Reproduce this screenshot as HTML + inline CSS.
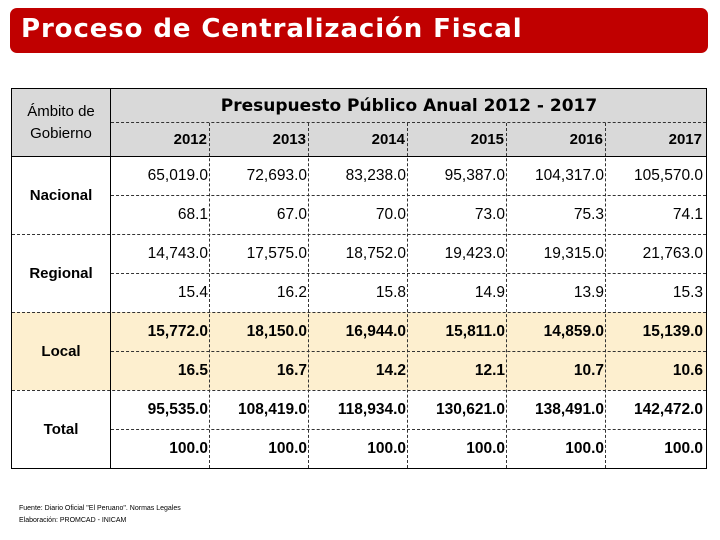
<!DOCTYPE html>
<html><head><meta charset="utf-8"><style>
body{margin:0;width:720px;height:540px;background:#fff;position:relative;overflow:hidden;font-family:"Liberation Sans",sans-serif}
.a{position:absolute;box-sizing:border-box}
.t{position:absolute;white-space:nowrap}
</style></head><body>
<div class="a" style="left:10px;top:8px;width:698px;height:45px;background:#c00000;border-radius:7px"></div>
<div class="t" style="left:21px;top:14px;color:#fff;font:bold 26px 'DejaVu Sans',sans-serif;letter-spacing:0.9px">Proceso de Centralización Fiscal</div>
<div id="tbl" class="a" style="left:11px;top:88px;width:696px;height:381px;border:1px solid #000"></div>
<div class="t" style="left:19px;top:505px;font-size:7px;color:#000">Fuente: Diario Oficial "El Peruano". Normas Legales</div>
<div class="t" style="left:19px;top:517px;font-size:7px;color:#000">Elaboración: PROMCAD - INICAM</div>
<script>
const years=["2012","2013","2014","2015","2016","2017"];
const regions=["Nacional","Regional","Local","Total"];
const amounts=[
["65,019.0","72,693.0","83,238.0","95,387.0","104,317.0","105,570.0"],
["14,743.0","17,575.0","18,752.0","19,423.0","19,315.0","21,763.0"],
["15,772.0","18,150.0","16,944.0","15,811.0","14,859.0","15,139.0"],
["95,535.0","108,419.0","118,934.0","130,621.0","138,491.0","142,472.0"]];
const shares=[
["68.1","67.0","70.0","73.0","75.3","74.1"],
["15.4","16.2","15.8","14.9","13.9","15.3"],
["16.5","16.7","14.2","12.1","10.7","10.6"],
["100.0","100.0","100.0","100.0","100.0","100.0"]];
const T=document.getElementById('tbl');
function box(l,t,w,h,css){const d=document.createElement('div');d.className='a';d.style.cssText=`left:${l}px;top:${t}px;width:${w}px;height:${h}px;`+css;T.appendChild(d);return d;}
function txt(l,t,w,h,s,css){const d=box(l,t,w,h,`display:flex;align-items:center;${css}`);d.textContent=s;return d;}
const colW=99;
const hdr=box(0,0,694,67,'background:#d9d9d9');


const loc=box(0,223,694,78,'background:#fdefcf');


const hl=box(0,67,694,1,'background:#000');


const vl=box(98,0,1,379,'background:#000');


const h1=txt(206,0,382,34,'Presupuesto Público Anual 2012 - 2017','justify-content:center;font:bold 17px "DejaVu Sans",sans-serif');


const h2=txt(0,0,98,67,'Ámbito de\nGobierno','justify-content:center;text-align:center;white-space:pre;font:15px "Liberation Sans",sans-serif;line-height:22px');


box(99,33,595,0,'border-top:1px dashed #333');
years.forEach((y,i)=>{
 const l=99+i*colW;
 const c=txt(l,33,colW-3,34,y,'justify-content:flex-end;font-size:15px;font-weight:bold');
 
 
 if(i<5){box(l+colW-1,34,0,345,'border-left:1px dashed #333');}
});
regions.forEach((r,k)=>{
 const top=67+k*78;
 const bold=k>=2?'bold':'normal';
 const lab=txt(0,top,98,78,r,'justify-content:center;font-size:15px;font-weight:bold');
 
 
 box(99,top+39,595,0,'border-top:1px dashed #333');
 if(k>0)box(0,top,694,0,'border-top:1px dashed #333');
 years.forEach((y,i)=>{
  const l=99+i*colW;
  const a=txt(l,top,colW-2,39,amounts[k][i],`justify-content:flex-end;font-size:15.5px;font-weight:${bold}`);
  
  
  const s=txt(l,top+39,colW-2,39,shares[k][i],`justify-content:flex-end;font-size:15.5px;font-weight:${bold}`);
  
  
 });
});
</script>
</body></html>
